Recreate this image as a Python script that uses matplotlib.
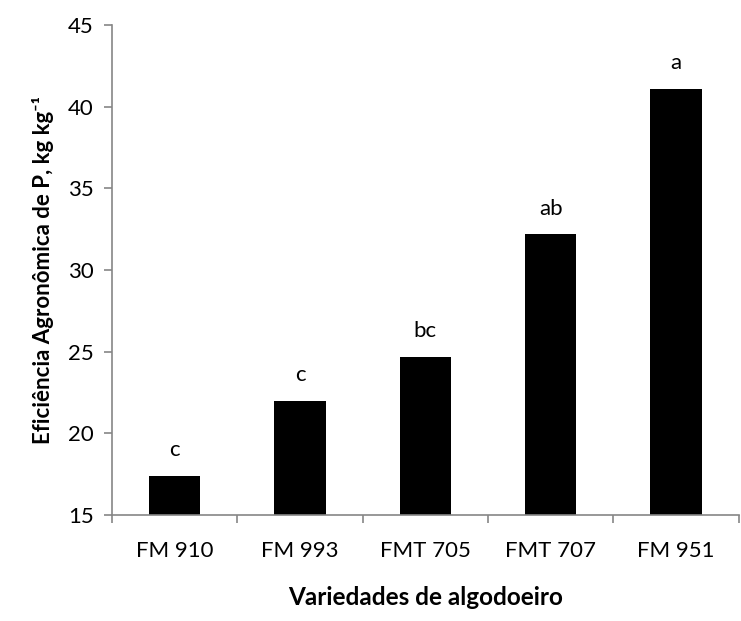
import matplotlib
matplotlib.use("Agg")
import matplotlib.pyplot as plt
import numpy as np

categories = ["FM 910", "FM 993", "FMT 705", "FMT 707", "FM 951"]
values = [17.4, 22.0, 24.7, 32.2, 41.1]
letters = ["c", "c", "bc", "ab", "a"]
yticks = [15, 20, 25, 30, 35, 40, 45]

plt.rcParams['font.family'] = ['Lato', 'DejaVu Sans']

fig = plt.figure(figsize=(7.41, 6.21), dpi=100)
ax = fig.add_axes([0.151, 0.1707, 0.846, 0.789])

x = np.arange(len(categories))
ax.bar(x, [v - 15 for v in values], bottom=15, width=0.41, color="black")

for xi, v, lab in zip(x, values, letters):
    ax.annotate(lab, (xi, v), xytext=(0, 14), textcoords="offset points",
                ha="center", va="baseline", fontsize=16)

ax.set_xlim(-0.5, len(categories) - 0.5)
ax.set_ylim(15, 45)
ax.set_yticks(yticks)
ax.set_yticklabels([str(t) for t in yticks], fontsize=16)

ax.set_xticks(x)
ax.set_xticklabels(categories, fontsize=16)
ax.tick_params(axis="x", which="major", length=0, pad=19)
ax.set_xticks(np.arange(-0.5, len(categories) + 0.5, 1.0), minor=True)
ax.tick_params(axis="x", which="minor", length=6, color="#868686", width=1.2)
ax.tick_params(axis="y", length=6, color="#868686", width=1.2, pad=7)

for s in ["top", "right"]:
    ax.spines[s].set_visible(False)
for s in ["left", "bottom"]:
    ax.spines[s].set_color("#868686")
    ax.spines[s].set_linewidth(1.2)

ax.set_xlabel("Variedades de algodoeiro", fontsize=17.5, fontweight="bold", labelpad=18)
ax.set_ylabel("Eficiência Agronômica de P, kg kg\u207b\u00b9", fontsize=16,
              fontweight="bold", labelpad=10)

fig.savefig("out.png", dpi=100)
